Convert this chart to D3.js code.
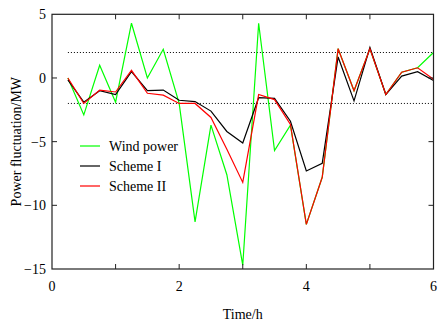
<!DOCTYPE html>
<html>
<head>
<meta charset="utf-8">
<script src="https://cdn.jsdelivr.net/npm/d3@7"></script>
<style>
  body { margin: 0; background: #fff; }
  text { font-family: "Liberation Serif", "Times New Roman", serif; }
</style>
</head>
<body>
<svg width="438" height="322"></svg>
<script>
// time points (h)
const times = [0.25, 0.5, 0.75, 1.0, 1.25, 1.5, 1.75, 2.0, 2.25, 2.5, 2.75, 3.0,
               3.25, 3.5, 3.75, 4.0, 4.25, 4.5, 4.75, 5.0, 5.25, 5.5, 5.75, 6.0];

// power fluctuation values (MW)
const windPower = [0.0, -2.9, 1.0, -1.9, 4.3, 0.0, 2.25, -2.0, -11.3, -3.7, -7.6, -14.7,
                   4.3, -5.7, -3.7, -11.5, -7.8, 2.3, -1.0, 2.3, -1.3, 0.45, 0.8, 2.0];
const schemeI   = [-0.15, -1.9, -1.0, -1.3, 0.5, -1.0, -0.95, -1.75, -1.85, -2.6, -4.2, -5.1,
                   -1.55, -1.6, -3.4, -7.3, -6.7, 1.65, -1.8, 2.4, -1.3, 0.15, 0.5, -0.2];
const schemeII  = [0.0, -2.0, -0.95, -1.1, 0.6, -1.2, -1.35, -2.0, -2.0, -3.1, -5.6, -8.2,
                   -1.3, -1.7, -3.65, -11.5, -7.8, 2.3, -1.0, 2.3, -1.3, 0.45, 0.8, -0.1];

const seriesNames = ["Wind power", "Scheme I", "Scheme II"];
const seriesColors = ["#00ff00", "#000000", "#ff0000"];
const limits = [2, -2];

const xTicks = [0, 1, 2, 3, 4, 5, 6];
const xLabels = [0, 2, 4, 6];
const yTicks = [5, 0, -5, -10, -15];

// layout
const margin = {left: 52, right: 4.5, top: 14.3, bottom: 53};
const W = 438, H = 322;

const svg = d3.select("svg");

const x = d3.scaleLinear().domain([0, 6]).range([margin.left, W - margin.right]);
const y = d3.scaleLinear().domain([-15, 5]).range([H - margin.bottom, margin.top]);

// dotted limit lines
svg.selectAll(".limit")
  .data(limits)
  .enter()
  .append("line")
  .attr("x1", x(times[0]))
  .attr("x2", x(6))
  .attr("y1", d => y(d))
  .attr("y2", d => y(d))
  .attr("stroke", "#000")
  .attr("stroke-width", 1)
  .attr("stroke-dasharray", "1,2");

// lines
const line = d3.line()
  .x((d, i) => x(times[i]))
  .y(d => y(d));

[windPower, schemeI, schemeII].forEach((s, k) => {
  svg.append("path")
    .attr("d", line(s))
    .attr("fill", "none")
    .attr("stroke", seriesColors[k])
    .attr("stroke-width", 1.2)
    .attr("stroke-linejoin", "miter");
});

// frame
svg.append("rect")
  .attr("x", x(0))
  .attr("y", y(5))
  .attr("width", x(6) - x(0))
  .attr("height", y(-15) - y(5))
  .attr("fill", "none")
  .attr("stroke", "#222")
  .attr("stroke-width", 1.2);

// x ticks (bottom & top, inward)
const tl = 5;
xTicks.slice(1, -1).forEach(t => {
  svg.append("line").attr("x1", x(t)).attr("x2", x(t))
    .attr("y1", y(-15)).attr("y2", y(-15) - tl).attr("stroke", "#222");
  svg.append("line").attr("x1", x(t)).attr("x2", x(t))
    .attr("y1", y(5)).attr("y2", y(5) + tl).attr("stroke", "#222");
});
// y ticks (left & right, inward)
yTicks.slice(1, -1).forEach(t => {
  svg.append("line").attr("x1", x(0)).attr("x2", x(0) + tl)
    .attr("y1", y(t)).attr("y2", y(t)).attr("stroke", "#222");
  svg.append("line").attr("x1", x(6)).attr("x2", x(6) - tl)
    .attr("y1", y(t)).attr("y2", y(t)).attr("stroke", "#222");
});

// tick labels
svg.selectAll(".xl")
  .data(xLabels)
  .enter()
  .append("text")
  .attr("x", d => x(d))
  .attr("y", y(-15) + 22)
  .attr("text-anchor", "middle")
  .style("font-size", "14px")
  .text(d => d);

svg.selectAll(".yl")
  .data(yTicks)
  .enter()
  .append("text")
  .attr("x", x(0) - 6)
  .attr("y", d => y(d) + 5)
  .attr("text-anchor", "end")
  .style("font-size", "14px")
  .text(d => d < 0 ? "\u2212" + Math.abs(d) : d);

// axis titles
svg.append("text")
  .attr("x", x(3))
  .attr("y", 319)
  .attr("text-anchor", "middle")
  .style("font-size", "14px")
  .text("Time/h");

svg.append("text")
  .attr("transform", "translate(21," + y(-5) + ") rotate(-90)")
  .attr("text-anchor", "middle")
  .style("font-size", "14px")
  .text("Power fluctuation/MW");

// legend
seriesNames.forEach((name, k) => {
  const ly = 146 + k * 20;
  svg.append("line")
    .attr("x1", 80).attr("x2", 100)
    .attr("y1", ly).attr("y2", ly)
    .attr("stroke", seriesColors[k])
    .attr("stroke-width", 1.2);
  svg.append("text")
    .attr("x", 109)
    .attr("y", ly + 5)
    .style("font-size", "14px")
    .text(name);
});
</script>
</body>
</html>
